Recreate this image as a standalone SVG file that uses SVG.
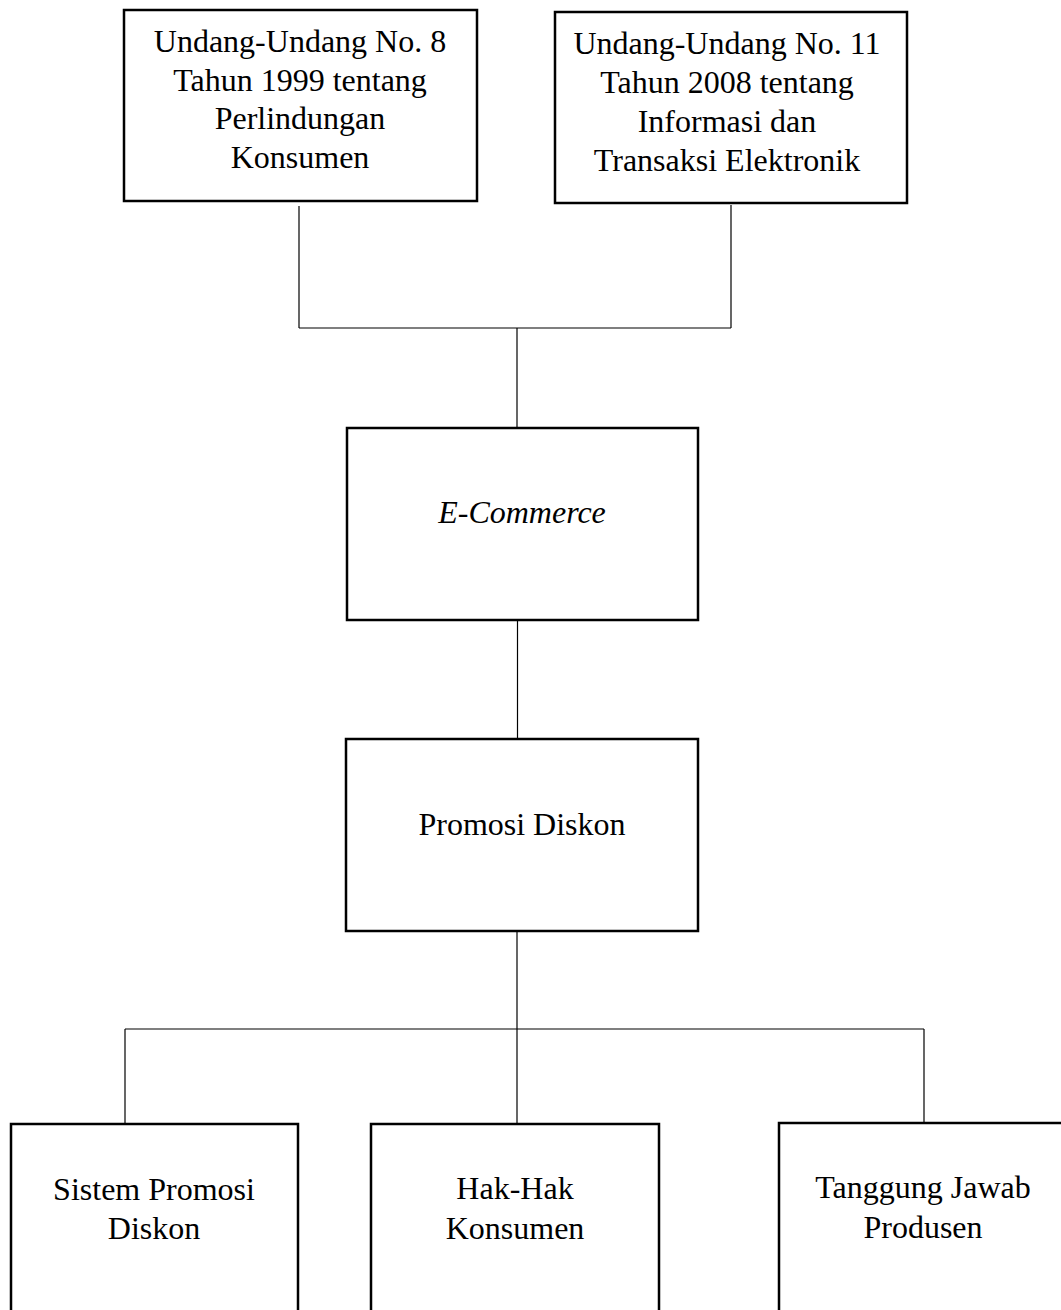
<svg xmlns="http://www.w3.org/2000/svg" width="1061" height="1310" viewBox="0 0 1061 1310">
<style>
.box{fill:#fff;stroke:#000;stroke-width:2.5}
.ln{stroke:#000;stroke-width:1.2;fill:none}
text{font-family:"Liberation Serif","Times New Roman",serif;font-size:32px;fill:#000;text-anchor:middle}
.it{font-style:italic}
</style>
<rect width="1061" height="1310" fill="#fff"/>
<g id="connectors">
<line class="ln" x1="299" y1="206" x2="299" y2="328"/>
<line class="ln" x1="731" y1="205" x2="731" y2="328"/>
<line class="ln" x1="299" y1="328" x2="731" y2="328"/>
<line class="ln" x1="517" y1="328" x2="517" y2="428"/>
<line class="ln" x1="517.5" y1="620" x2="517.5" y2="739"/>
<line class="ln" x1="517" y1="931" x2="517" y2="1124"/>
<line class="ln" x1="125" y1="1029" x2="924" y2="1029"/>
<line class="ln" x1="125" y1="1029" x2="125" y2="1124"/>
<line class="ln" x1="924" y1="1029" x2="924" y2="1123"/>
</g>
<g id="uu8">
<rect class="box" x="124" y="10" width="353" height="191"/>
<text x="300" y="52">Undang-Undang No. 8</text>
<text x="300" y="91">Tahun 1999 tentang</text>
<text x="300" y="129">Perlindungan</text>
<text x="300" y="168">Konsumen</text>
</g>
<g id="uu11">
<rect class="box" x="555" y="12" width="352" height="191"/>
<text x="727" y="54">Undang-Undang No. 11</text>
<text x="727" y="93">Tahun 2008 tentang</text>
<text x="727" y="132">Informasi dan</text>
<text x="727" y="171">Transaksi Elektronik</text>
</g>
<g id="ecommerce">
<rect class="box" x="347" y="428" width="351" height="192"/>
<text class="it" x="522" y="523">E-Commerce</text>
</g>
<g id="promosi">
<rect class="box" x="346" y="739" width="352" height="192"/>
<text x="522" y="835">Promosi Diskon</text>
</g>
<g id="sistem">
<rect class="box" x="11" y="1124" width="287" height="200"/>
<text x="154" y="1200">Sistem Promosi</text>
<text x="154" y="1239">Diskon</text>
</g>
<g id="hak">
<rect class="box" x="371" y="1124" width="288" height="200"/>
<text x="515" y="1199">Hak-Hak</text>
<text x="515" y="1239">Konsumen</text>
</g>
<g id="tanggung">
<rect class="box" x="779" y="1123" width="288" height="200"/>
<text x="923" y="1198">Tanggung Jawab</text>
<text x="923" y="1238">Produsen</text>
</g>
</svg>
